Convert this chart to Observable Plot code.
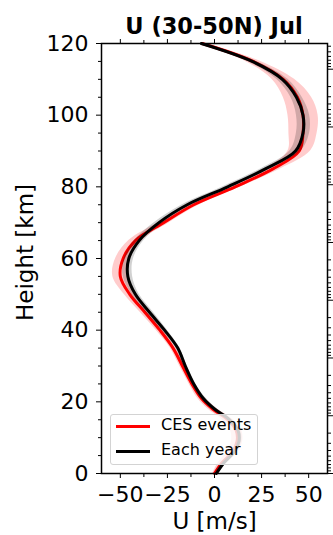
<!DOCTYPE html>
<html>
<head>
<meta charset="utf-8">
<script src="https://cdn.jsdelivr.net/npm/d3@7"></script>
<script src="https://cdn.jsdelivr.net/npm/@observablehq/plot@0.6"></script>
<style>
  body { margin: 0; background: #fff; font-family: "DejaVu Sans", sans-serif; }
  #wrap { position: relative; width: 333px; height: 535px; overflow: hidden; }
  #chart { position: absolute; left: 0; top: 0; }
  #title { position: absolute; left: 91px; width: 246px; top: 16px; text-align: center;
           font-weight: bold; font-size: 22.5px; line-height: 21px; white-space: nowrap; }
  #legend { position: absolute; left: 110px; top: 414px; width: 148px; height: 51px; box-sizing: border-box;
            background: rgba(255,255,255,0.8); border: 1px solid #d3d3d3; border-radius: 3px; font-size: 16px; }
  #legend .sw { position: absolute; left: 5px; width: 34px; height: 3px; }
  #legend .lb { position: absolute; left: 50px; line-height: 16px; white-space: nowrap; }
</style>
</head>
<body>
<div id="wrap">
  <div id="chart"></div>
  <div id="title">U (30-50N) Jul</div>
  <div id="legend"></div>
</div>
<script>
// Zonal-mean zonal wind profile, 30-50N, July
const heights = [0, 3, 6, 9, 12, 15, 18, 21, 25, 30, 35, 40, 45, 50, 55, 60, 65, 70, 75, 80, 85, 90, 95, 100, 105, 110, 115, 120];
const uEachYear = [1, 5, 10.5, 13, 12.5, 8, 0, -6, -11, -15.5, -19.5, -26.5, -34.5, -42, -46, -45.5, -40, -29.5, -14.5, 7, 27, 43, 47, 47, 43.5, 36, 20, -7];
const uCES = [0, 4, 9.5, 12, 11.5, 7, -1, -7, -12, -17, -22, -29, -37, -45, -50, -48.5, -42, -27, -11, 11, 31, 45, 47, 47, 44, 36.5, 20.5, -6.5];
const spreadEachYear = [1, 1.5, 1.5, 1.5, 1.5, 1.5, 1.5, 1.5, 1, 1, 1, 1.5, 2, 2, 2.5, 2.5, 2.5, 2.5, 2.5, 2.5, 2.5, 3, 3.5, 3.5, 3, 3, 2.5, 1.5];
const spreadCES = [1, 2, 3, 3, 3, 3, 2.5, 2, 1.5, 1.5, 1.5, 2, 2.5, 3, 4, 4, 3.5, 3, 3, 3, 4, 6, 7.5, 8, 7.5, 6, 4, 2];

const seriesNames = ["CES events", "Each year"];
const seriesColors = ["red", "black"];

const xTicks = [-50, -25, 0, 25, 50];
const xMinorTicks = [-37.5, -12.5, 12.5, 37.5];
const yTicks = [0, 20, 40, 60, 80, 100, 120];
const yMinorTicks = d3.range(5, 120, 5).filter(v => v % 20 !== 0);

// right-hand pressure ticks (hPa), placed with a 7 km scale height
const pressureDecades = [1000, 100, 10, 1, 0.1, 0.01, 0.001, 0.0001, 0.00001];
const pressureMultiples = [2, 3, 4, 5, 6, 7, 8, 9];
const scaleHeight = 7;
const toHeight = p => scaleHeight * Math.log(1000 / p);
const pMajor = pressureDecades.map(toHeight).filter(z => z >= 0 && z <= 120);
const pMinor = pressureDecades.flatMap(p => pressureMultiples.map(k => k * p)).map(toHeight).filter(z => z >= 0 && z <= 120);

const rows = heights.map((z, i) => ({
  z, each: uEachYear[i], ces: uCES[i], sEach: spreadEachYear[i], sCES: spreadCES[i]
}));

const minus = d => d < 0 ? "\u2212" + Math.abs(d) : String(d);
const blank = () => "";
const curve = "catmull-rom";

const chart = Plot.plot({
  width: 333, height: 535,
  marginLeft: 101, marginRight: 6, marginTop: 43, marginBottom: 62,
  style: { fontFamily: "DejaVu Sans", background: "transparent", color: "#000" },
  x: { domain: [-60, 60] },
  y: { domain: [0, 120] },
  marks: [
    Plot.areaX(rows, { y: "z", x1: d => d.ces - d.sCES, x2: d => d.ces + d.sCES, fill: "red", fillOpacity: 0.2, curve }),
    Plot.line(rows, { x: "ces", y: "z", stroke: seriesColors[0], strokeWidth: 3, curve }),
    Plot.areaX(rows, { y: "z", x1: d => d.each - d.sEach, x2: d => d.each + d.sEach, fill: "black", fillOpacity: 0.18, curve }),
    Plot.line(rows, { x: "each", y: "z", stroke: seriesColors[1], strokeWidth: 3, curve }),
    Plot.frame({ stroke: "#000", strokeWidth: 1.5 }),
    Plot.axisX({ anchor: "bottom", ticks: xTicks, tickSize: 5, tickPadding: 8, tickFormat: minus, fontSize: 22, label: null }),
    Plot.axisX({ anchor: "bottom", ticks: xMinorTicks, tickSize: 4, tickFormat: blank, label: null }),
    Plot.axisX({ anchor: "top", ticks: xTicks, tickSize: 5, tickFormat: blank, label: null }),
    Plot.axisX({ anchor: "top", ticks: xMinorTicks, tickSize: 4, tickFormat: blank, label: null }),
    Plot.axisY({ anchor: "left", ticks: yTicks, tickSize: 5, tickPadding: 8, tickFormat: d => String(d), fontSize: 22, label: null }),
    Plot.axisY({ anchor: "left", ticks: yMinorTicks, tickSize: 3, tickFormat: blank, label: null }),
    Plot.axisY({ anchor: "right", ticks: pMajor, tickSize: 5, tickFormat: blank, label: null }),
    Plot.axisY({ anchor: "right", ticks: pMinor, tickSize: 3, tickFormat: blank, label: null }),
    Plot.text(["Height [km]"], { frameAnchor: "left", dx: -76, dy: -6, rotate: -90, fontSize: 23, textAnchor: "middle" }),
    Plot.text(["U [m/s]"], { frameAnchor: "bottom", dy: 55, fontSize: 23, textAnchor: "middle" })
  ]
});
document.getElementById("chart").appendChild(chart);

// legend box
const legend = document.getElementById("legend");
seriesNames.forEach((name, i) => {
  const top = 11 + i * 25;
  const sw = document.createElement("div");
  sw.className = "sw";
  sw.style.top = (top - 1.5) + "px";
  sw.style.background = seriesColors[i];
  legend.appendChild(sw);
  const lb = document.createElement("div");
  lb.className = "lb";
  lb.style.top = (top - 9) + "px";
  lb.textContent = name;
  legend.appendChild(lb);
});
</script>
</body>
</html>
